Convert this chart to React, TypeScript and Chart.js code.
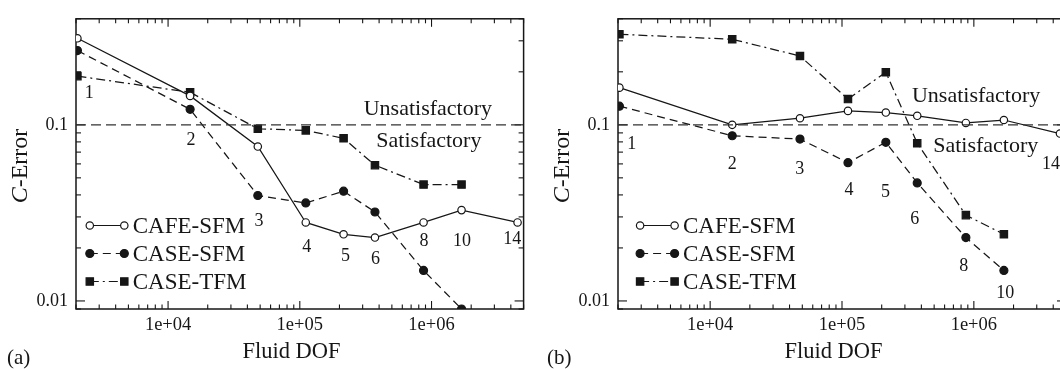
import React, { useEffect, useRef } from 'react';
import { Chart, registerables } from 'chart.js';

Chart.register(...registerables);

// ---------- data ----------
const meshLabels = ['1', '2', '3', '4', '5', '6', '8', '10', '14'];
const fluidDof = [2050, 14700, 48000, 111000, 215000, 372000, 870000, 1690000, 4500000];
const seriesNames = ['CAFE-SFM', 'CASE-SFM', 'CASE-TFM'];
const xTickValues = [1e4, 1e5, 1e6];
const xTickLabels = ['1e+04', '1e+05', '1e+06'];
const yTickValues = [0.01, 0.1];
const yTickLabels = ['0.01', '0.1'];
const xRange = [2000, 5e6];
const yRange = [0.009, 0.4];
const threshold = 0.1;
const zoneTexts = ['Unsatisfactory', 'Satisfactory'];

// panel (a)
const aCafeSfm = [0.31, 0.146, 0.0753, 0.0279, 0.0239, 0.0229, 0.0279, 0.0328, 0.0279];
const aCaseSfm = [0.264, 0.1225, 0.0397, 0.036, 0.042, 0.032, 0.0149, 0.009];
const aCaseTfm = [0.189, 0.153, 0.095, 0.093, 0.0838, 0.059, 0.0458, 0.0458];
const aLabelX = [2520, 14900, 49000, 113000, 222000, 375000, 875000, 1700000, 4100000];
const aLabelY = [0.152, 0.082, 0.0285, 0.0203, 0.0179, 0.0172, 0.0217, 0.0218, 0.0224];
const aZoneX = [938000, 955000];
const aZoneY = [0.1225, 0.0802];

// panel (b)
const bCafeSfm = [0.1626, 0.1, 0.109, 0.12, 0.1174, 0.1125, 0.1025, 0.1065, 0.0892];
const bCaseSfm = [0.1277, 0.0867, 0.083, 0.061, 0.0796, 0.0468, 0.0229, 0.0149];
const bCaseTfm = [0.3266, 0.306, 0.246, 0.14, 0.199, 0.0786, 0.0307, 0.0239];
const bLabelX = [2540, 14700, 47800, 113000, 214000, 357000, 838000, 1730000, 3850000];
const bLabelY = [0.0776, 0.0597, 0.0561, 0.0426, 0.0412, 0.0291, 0.0158, 0.0111, 0.0597];
const bZoneX = [1040000, 1230000];
const bZoneY = [0.145, 0.0753];

// ---------- styling ----------
const INK = '#161616';
const SERIF = '"Liberation Serif", "DejaVu Serif", serif';
const seriesStyle = [
  { dash: [] as number[], shape: 'circle', fill: '#ffffff', radius: 3.7 },
  { dash: [8, 5], shape: 'circle', fill: INK, radius: 4 },
  { dash: [9, 4, 2, 4], shape: 'rect', fill: INK, radius: 5.2 },
];

type PanelCfg = {
  letter: string;
  left: number;
  width: number;
  yAxisWidth: number;
  padRight: number;
  letterX: number;
  legendX: number[];
  legendY: number[];
  series: number[][];
  labelX: number[];
  labelY: number[];
  zoneX: number[];
  zoneY: number[];
};

function logTicks(min: number, max: number) {
  const out: { value: number; major: boolean }[] = [];
  const e0 = Math.floor(Math.log10(min));
  const e1 = Math.ceil(Math.log10(max));
  for (let e = e0; e <= e1; e++) {
    for (let m = 1; m <= 9; m++) {
      const v = m * Math.pow(10, e);
      if (v >= min * 0.9999 && v <= max * 1.0001) out.push({ value: v, major: m === 1 });
    }
  }
  return out;
}

function drawMarker(ctx: CanvasRenderingContext2D, shape: string, x: number, y: number, r: number, fill: string) {
  ctx.save();
  ctx.setLineDash([]);
  ctx.fillStyle = fill;
  ctx.strokeStyle = INK;
  ctx.lineWidth = 1.2;
  ctx.beginPath();
  if (shape === 'rect') {
    const s = r * Math.SQRT1_2;
    ctx.rect(x - s, y - s, 2 * s, 2 * s);
  } else {
    ctx.arc(x, y, r, 0, Math.PI * 2);
  }
  ctx.fill();
  ctx.stroke();
  ctx.restore();
}

const figurePlugin = {
  id: 'figure',
  beforeDatasetsDraw(chart: any) {
    const { ctx, chartArea: ca, scales } = chart;
    const xs = scales.x;
    const ys = scales.y;
    ctx.save();
    ctx.strokeStyle = INK;
    ctx.lineWidth = 1.1;
    const seg = (x1: number, y1: number, x2: number, y2: number) => {
      ctx.beginPath();
      ctx.moveTo(x1, y1);
      ctx.lineTo(x2, y2);
      ctx.stroke();
    };
    for (const t of logTicks(xRange[0], xRange[1])) {
      const px = xs.getPixelForValue(t.value);
      const len = t.major ? 8 : 4.5;
      seg(px, ca.bottom, px, ca.bottom - len);
      seg(px, ca.top, px, ca.top + len);
    }
    for (const t of logTicks(yRange[0], yRange[1])) {
      const py = ys.getPixelForValue(t.value);
      const len = t.major ? 9 : 5;
      seg(ca.left, py, ca.left + len, py);
      seg(ca.right, py, ca.right - len, py);
    }
    ctx.lineWidth = 1.5;
    ctx.strokeRect(ca.left, ca.top, ca.right - ca.left, ca.bottom - ca.top);
    ctx.restore();
  },
  afterDraw(chart: any) {
    const cfg = chart.options.plugins.figure as PanelCfg;
    const { ctx, chartArea: ca, scales } = chart;
    const xs = scales.x;
    const ys = scales.y;
    ctx.save();
    ctx.fillStyle = INK;
    ctx.textAlign = 'center';
    ctx.textBaseline = 'middle';
    ctx.font = `18px ${SERIF}`;
    meshLabels.forEach((t, i) => {
      ctx.fillText(t, xs.getPixelForValue(cfg.labelX[i]), ys.getPixelForValue(cfg.labelY[i]));
    });
    ctx.font = `22px ${SERIF}`;
    zoneTexts.forEach((t, i) => {
      ctx.fillText(t, xs.getPixelForValue(cfg.zoneX[i]), ys.getPixelForValue(cfg.zoneY[i]));
    });

    // legend
    seriesNames.forEach((name, i) => {
      const st = seriesStyle[i];
      const y = cfg.legendY[i];
      const x1 = ca.left + cfg.legendX[0];
      const x2 = ca.left + cfg.legendX[1];
      ctx.save();
      ctx.strokeStyle = INK;
      ctx.lineWidth = 1.2;
      ctx.setLineDash(st.dash);
      ctx.beginPath();
      ctx.moveTo(x1, y);
      ctx.lineTo(x2, y);
      ctx.stroke();
      ctx.restore();
      drawMarker(ctx, st.shape, x1, y, st.radius, st.fill);
      drawMarker(ctx, st.shape, x2, y, st.radius, st.fill);
      ctx.textAlign = 'left';
      ctx.textBaseline = 'middle';
      ctx.font = `23px ${SERIF}`;
      ctx.fillStyle = INK;
      ctx.fillText(name, ca.left + cfg.legendX[2], y + 1);
    });

    // x title
    ctx.textAlign = 'center';
    ctx.textBaseline = 'alphabetic';
    ctx.font = `22.5px ${SERIF}`;
    ctx.fillText('Fluid DOF', ca.left + 215.5, 358);

    // panel letter
    ctx.textAlign = 'left';
    ctx.font = `21px ${SERIF}`;
    ctx.fillText(cfg.letter, cfg.letterX, 364);

    // y title with italic C
    ctx.save();
    ctx.translate(ca.left - 49, 166);
    ctx.rotate(-Math.PI / 2);
    ctx.textAlign = 'left';
    ctx.textBaseline = 'alphabetic';
    ctx.font = `italic 24px ${SERIF}`;
    const wC = ctx.measureText('C').width;
    ctx.font = `24px ${SERIF}`;
    const wRest = ctx.measureText('-Error').width;
    const start = -(wC + wRest) / 2;
    ctx.font = `italic 24px ${SERIF}`;
    ctx.fillText('C', start, 0);
    ctx.font = `24px ${SERIF}`;
    ctx.fillText('-Error', start + wC, 0);
    ctx.restore();

    ctx.restore();
  },
};

function Panel({ cfg }: { cfg: PanelCfg }) {
  const ref = useRef<HTMLCanvasElement | null>(null);
  useEffect(() => {
    if (!ref.current) return;
    const datasets: any[] = [
      {
        label: 'threshold',
        data: xRange.map((x) => ({ x, y: threshold })),
        borderColor: '#333',
        borderWidth: 1.2,
        borderDash: [10, 5],
        pointRadius: 0,
        fill: false,
      },
    ];
    cfg.series.forEach((vals, i) => {
      const st = seriesStyle[i];
      datasets.push({
        label: seriesNames[i],
        data: vals.map((y, k) => ({ x: fluidDof[k], y })),
        borderColor: INK,
        borderWidth: 1.25,
        borderDash: st.dash,
        pointStyle: st.shape,
        pointRadius: st.radius,
        pointBackgroundColor: st.fill,
        pointBorderColor: INK,
        pointBorderWidth: 1.2,
        tension: 0,
        fill: false,
      });
    });
    const chart = new Chart(ref.current, {
      type: 'line',
      data: { datasets },
      plugins: [figurePlugin as any],
      options: {
        animation: false,
        responsive: false,
        devicePixelRatio: 1,
        layout: { padding: { top: 10, right: cfg.padRight, left: 0, bottom: 0 } },
        plugins: {
          legend: { display: false },
          tooltip: { enabled: false },
          figure: cfg,
        } as any,
        scales: {
          x: {
            type: 'logarithmic',
            min: xRange[0],
            max: xRange[1],
            grid: { display: false, drawTicks: false },
            border: { display: false },
            afterBuildTicks: (scale: any) => {
              scale.ticks = xTickValues.map((v) => ({ value: v }));
            },
            afterFit: (scale: any) => {
              scale.height = 60;
            },
            ticks: {
              autoSkip: false,
              maxRotation: 0,
              padding: 5,
              color: INK,
              font: { family: SERIF, size: 18.5 },
              callback: (v: any) => {
                const i = xTickValues.indexOf(Number(v));
                return i >= 0 ? xTickLabels[i] : '';
              },
            },
          },
          y: {
            type: 'logarithmic',
            min: yRange[0],
            max: yRange[1],
            grid: { display: false, drawTicks: false },
            border: { display: false },
            afterBuildTicks: (scale: any) => {
              scale.ticks = yTickValues.map((v) => ({ value: v }));
            },
            afterFit: (scale: any) => {
              scale.width = cfg.yAxisWidth;
            },
            ticks: {
              autoSkip: false,
              padding: 8,
              color: INK,
              font: { family: SERIF, size: 18 },
              callback: (v: any) => {
                const i = yTickValues.indexOf(Number(v));
                return i >= 0 ? yTickLabels[i] : '';
              },
            },
          },
        },
      } as any,
    });
    return () => chart.destroy();
  }, [cfg]);
  return (
    <canvas
      ref={ref}
      width={cfg.width}
      height={369}
      style={{ position: 'absolute', left: cfg.left, top: 0, width: cfg.width, height: 369, display: 'block' }}
    />
  );
}

const panelA: PanelCfg = {
  letter: '(a)',
  left: 0,
  width: 530,
  yAxisWidth: 76,
  padRight: 6,
  letterX: 7,
  legendX: [13.8, 48.3, 56.7],
  legendY: [225.5, 253.5, 281.5],
  series: [aCafeSfm, aCaseSfm, aCaseTfm],
  labelX: aLabelX,
  labelY: aLabelY,
  zoneX: aZoneX,
  zoneY: aZoneY,
};

const panelB: PanelCfg = {
  letter: '(b)',
  left: 530,
  width: 546,
  yAxisWidth: 88,
  padRight: 10,
  letterX: 17,
  legendX: [22.1, 56.6, 65],
  legendY: [225.5, 253.5, 281.5],
  series: [bCafeSfm, bCaseSfm, bCaseTfm],
  labelX: bLabelX,
  labelY: bLabelY,
  zoneX: bZoneX,
  zoneY: bZoneY,
};

export default function App() {
  return (
    <div
      style={{
        position: 'fixed',
        left: 0,
        top: 0,
        width: 1060,
        height: 369,
        overflow: 'hidden',
        background: '#fff',
      }}
    >
      <Panel cfg={panelA} />
      <Panel cfg={panelB} />
    </div>
  );
}
